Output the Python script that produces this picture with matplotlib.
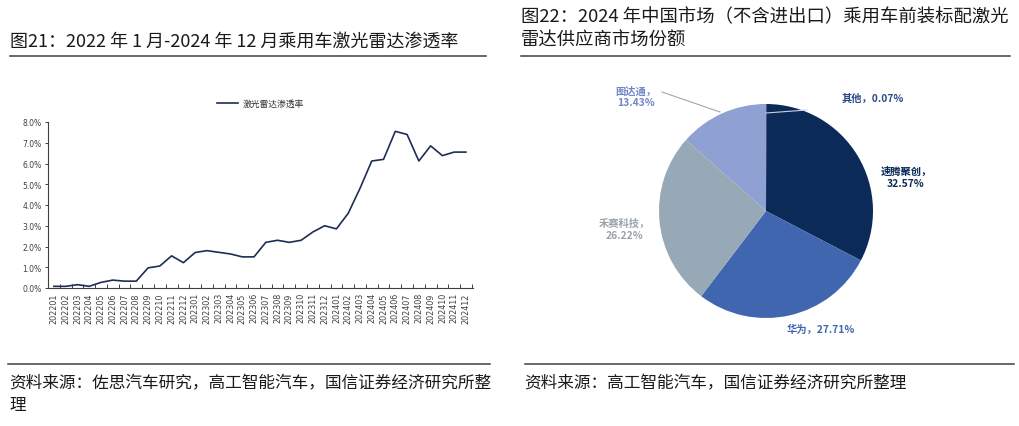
import matplotlib
matplotlib.use("Agg")
import matplotlib.pyplot as plt
import numpy as np

plt.rcParams['font.family'] = ['Noto Sans CJK SC', 'DejaVu Sans']

# ---------------- data ----------------
months = ["202201", "202202", "202203", "202204", "202205", "202206", "202207", "202208",
          "202209", "202210", "202211", "202212", "202301", "202302", "202303", "202304",
          "202305", "202306", "202307", "202308", "202309", "202310", "202311", "202312",
          "202401", "202402", "202403", "202404", "202405", "202406", "202407", "202408",
          "202409", "202410", "202411", "202412"]
penetration = [0.08, 0.08, 0.16, 0.08, 0.27, 0.38, 0.33, 0.33,
               0.97, 1.06, 1.55, 1.22, 1.71, 1.80, 1.72, 1.64,
               1.50, 1.50, 2.20, 2.30, 2.20, 2.30, 2.70, 3.00,
               2.85, 3.60, 4.80, 6.12, 6.20, 7.55, 7.40, 6.12,
               6.85, 6.38, 6.55, 6.55]
series_name = "激光雷达渗透率"
yticks = [0, 1, 2, 3, 4, 5, 6, 7, 8]

suppliers = ["其他", "速腾聚创", "华为", "禾赛科技", "图达通"]
shares = [0.07, 32.57, 27.71, 26.22, 13.43]

# ---------------- figure ----------------
W, H = 1019, 427
fig = plt.figure(figsize=(W / 100, H / 100), dpi=100)


def fx(px):
    return px / W


def fy(py):
    return 1 - py / H


# titles
fig.text(fx(10), fy(42), "图21：2022 年 1 月-2024 年 12 月乘用车激光雷达渗透率",
         fontsize=13, color="#1a1a1a", va="center", ha="left")
fig.text(fx(521), fy(17), "图22：2024 年中国市场（不含进出口）乘用车前装标配激光",
         fontsize=13.2, color="#1a1a1a", va="center", ha="left")
fig.text(fx(521), fy(41), "雷达供应商市场份额",
         fontsize=13.2, color="#1a1a1a", va="center", ha="left")

# separator lines
for (x0, x1, y) in [(10, 486, 57), (521, 1010, 57), (8, 490, 365), (525, 1014, 365)]:
    fig.add_artist(plt.Line2D([fx(x0), fx(x1)], [fy(y), fy(y)], color="#404040", lw=1.1))

# sources
fig.text(fx(9), fy(384), "资料来源：佐思汽车研究，高工智能汽车，国信证券经济研究所整",
         fontsize=12, color="#1a1a1a", va="center", ha="left")
fig.text(fx(9), fy(406), "理", fontsize=12, color="#1a1a1a", va="center", ha="left")
fig.text(fx(524), fy(384), "资料来源：高工智能汽车，国信证券经济研究所整理",
         fontsize=12, color="#1a1a1a", va="center", ha="left")

# ---------------- line chart ----------------
ax = fig.add_axes([fx(48), fy(289), fx(473) - fx(48), (289 - 123) / H])
x = np.arange(len(months))
ax.plot(x, penetration, color="#1f2d55", lw=1.2, label=series_name)
ax.set_xlim(-0.45, len(months) - 0.4)
ax.set_ylim(0, 8)
ax.set_yticks(yticks)
ax.set_yticklabels([f"{v:.1f}%" for v in yticks], fontfamily="DejaVu Sans")
ax.tick_params(axis="y", labelsize=5.5, labelcolor="#404040", direction="out",
               length=2.5, width=0.7, color="#404040", pad=2)
ax.set_xticks(np.arange(-0.5, len(months), 1))
ax.set_xticklabels([])
ax.tick_params(axis="x", which="major", direction="in", length=3, width=0.7, color="#404040")
ax.set_xticks(x, minor=True)
ax.set_xticklabels(months, minor=True, rotation=90, fontfamily="DejaVu Sans")
ax.tick_params(axis="x", which="minor", length=0, labelsize=5.8, labelcolor="#404040", pad=3)
for s in ["top", "right"]:
    ax.spines[s].set_visible(False)
for s in ["left", "bottom"]:
    ax.spines[s].set_color("#404040")
    ax.spines[s].set_linewidth(0.8)
leg = ax.legend(loc="center", bbox_to_anchor=(0.5, 1.11), frameon=False,
                fontsize=6.3, handlelength=2.4, handletextpad=0.5)
for t in leg.get_texts():
    t.set_color("#333333")

# ---------------- pie chart ----------------
cx, cy, half = 766, 212, 118
pax = fig.add_axes([fx(cx - half), fy(cy + half), 2 * half / W, 2 * half / H])
R = 107.0
lim = half / R
colors = ["#0b2a57", "#0b2a57", "#3f66ae", "#97a9b6", "#8fa1d2"]
pax.pie(shares, colors=colors, startangle=90, counterclock=False, radius=1.0,
        wedgeprops=dict(linewidth=0))
pax.set_xlim(-lim, lim)
pax.set_ylim(-lim, lim)
pax.set_aspect("equal")
pax.axis("off")


def d(px, py):
    return ((px - cx) / R, (cy - py) / R)


label_cfg = [
    ("其他", "其他，0.07%", (873, 99), "#2b4a86"),
    ("速腾聚创", "速腾聚创，\n32.57%", (906, 178), "#0b2a57"),
    ("华为", "华为，27.71%", (821, 330), "#3f66ae"),
    ("禾赛科技", "禾赛科技，\n26.22%", (624, 230), "#9aa3ab"),
    ("图达通", "图达通，\n13.43%", (636, 97), "#6f86c6"),
]
for name, txt, (px, py), c in label_cfg:
    tx, ty = d(px, py)
    pax.text(tx, ty, txt, ha="center", va="center", fontsize=7.4, color=c,
             fontweight="bold", linespacing=1.2, clip_on=False)

# leader lines
l1 = [d(662, 93), d(720, 113)]
pax.plot([l1[0][0], l1[1][0]], [l1[0][1], l1[1][1]], color="#a6a6a6", lw=0.8, clip_on=False)
l2 = [d(766, 114), d(807, 111)]
pax.plot([l2[0][0], l2[1][0]], [l2[0][1], l2[1][1]], color="#c9d2e3", lw=0.8, clip_on=False)

fig.savefig("out.png", dpi=100)
